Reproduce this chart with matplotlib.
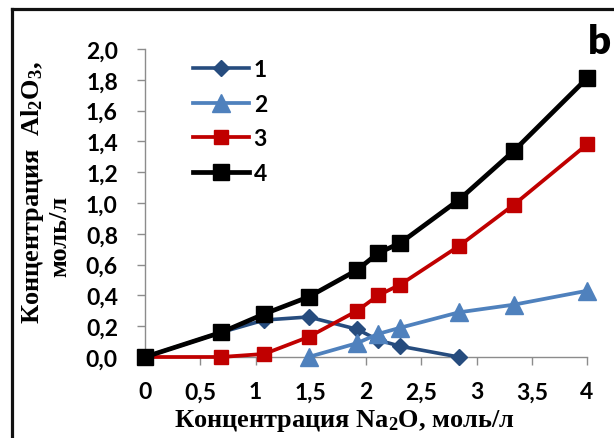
import matplotlib
matplotlib.use("Agg")
import matplotlib.pyplot as plt
from matplotlib.lines import Line2D

# ---- data ----
x_all = [0, 0.69, 1.08, 1.48, 1.92, 2.11, 2.31, 2.84, 3.34, 4.0]
s1_x = [0, 0.69, 1.08, 1.48, 1.92, 2.11, 2.31, 2.84]
s1_y = [0, 0.16, 0.24, 0.26, 0.18, 0.11, 0.07, 0.0]
s2_x = [1.48, 1.92, 2.11, 2.31, 2.84, 3.34, 4.0]
s2_y = [0.0, 0.09, 0.15, 0.19, 0.29, 0.34, 0.43]
s3_y = [0, 0.0, 0.02, 0.13, 0.30, 0.40, 0.47, 0.72, 0.99, 1.38]
s4_y = [0, 0.16, 0.28, 0.39, 0.565, 0.675, 0.74, 1.02, 1.34, 1.81]
labels = ["1", "2", "3", "4"]
xticks = [0, 0.5, 1, 1.5, 2, 2.5, 3, 3.5, 4]
xticklabels = ["0", "0,5", "1", "1,5", "2", "2,5", "3", "3,5", "4"]
yticks = [0, 0.2, 0.4, 0.6, 0.8, 1.0, 1.2, 1.4, 1.6, 1.8, 2.0]
yticklabels = ["0,0", "0,2", "0,4", "0,6", "0,8", "1,0", "1,2", "1,4", "1,6", "1,8", "2,0"]

plt.rcParams["mathtext.default"] = "regular"

W, H = 614, 439
fig = plt.figure(figsize=(W / 100, H / 100), dpi=100)
fig.patch.set_facecolor("white")

x0, x1 = 145, 587
y0, y1 = 358, 50
ax = fig.add_axes([x0 / W, 1 - y0 / H, (x1 - x0) / W, (y0 - y1) / H])
ax.set_xlim(0, 4)
ax.set_ylim(0, 2.0)

c1 = "#264C7E"
c2 = "#4F81BD"
c3 = "#C00000"
c4 = "#000000"

ax.plot(s1_x, s1_y, color=c1, lw=2.6, marker="D", ms=8.5, label=labels[0], clip_on=False, zorder=3)
ax.plot(s2_x, s2_y, color=c2, lw=2.7, marker="^", ms=12.5, label=labels[1], clip_on=False, zorder=4)
ax.plot(x_all, s3_y, color=c3, lw=2.7, marker="s", ms=9.5, label=labels[2], clip_on=False, zorder=5)
ax.plot(x_all, s4_y, color=c4, lw=3.4, marker="s", ms=12, label=labels[3], clip_on=False, zorder=6)

tickfont = {"family": "Lato", "weight": "bold", "size": 16.5}
ax.set_xticks(xticks)
ax.set_xticklabels(xticklabels, fontdict=tickfont)
ax.set_yticks(yticks)
ax.set_yticklabels(yticklabels, fontdict=tickfont)

for s in ["top", "right"]:
    ax.spines[s].set_visible(False)
for s in ["left", "bottom"]:
    ax.spines[s].set_color("#8c8c8c")
    ax.spines[s].set_linewidth(1.0)
ax.tick_params(axis="both", direction="out", length=5.5, width=1.0, color="#8c8c8c")
ax.tick_params(axis="y", pad=14)
ax.tick_params(axis="x", pad=12)

labfont = {"family": "Liberation Serif", "weight": "bold", "size": 19}
ax.set_xlabel("Концентрация Na$_2$O, моль/л", fontdict=labfont)
ax.xaxis.set_label_coords((345 - x0) / (x1 - x0), (y0 - 421) / (y0 - y1))
ax.xaxis.label.set_va("center")

ax.set_ylabel("Концентрация  Al$_2$O$_3$,", fontdict=labfont)
ax.yaxis.set_label_coords((33 - x0) / (x1 - x0), (y0 - 193) / (y0 - y1))
ax.yaxis.label.set_va("center")
ax.text((60 - x0) / (x1 - x0), (y0 - 236) / (y0 - y1), "моль/л", transform=ax.transAxes,
        rotation=90, ha="center", va="center", **labfont)

leg = ax.legend(loc="upper left", bbox_to_anchor=(193 / W, 1 - 60 / H), bbox_transform=fig.transFigure,
                frameon=False, prop={"family": "Lato", "weight": "bold", "size": 16.5},
                handlelength=2.45, handletextpad=0.2, labelspacing=0.6, borderpad=0, borderaxespad=0,
                numpoints=1)

fig.text(599 / W, 1 - 42 / H, "b", family="Lato", weight="heavy", size=29, ha="center", va="center")

# partial frame (left and top border)
fig.add_artist(Line2D([11.5 / W, 11.5 / W], [0, 1 - 10 / H], transform=fig.transFigure, color="#111111", lw=2.3,
                      solid_capstyle="projecting"))
fig.add_artist(Line2D([11.5 / W, 1], [1 - 10 / H, 1 - 10 / H], transform=fig.transFigure, color="#111111", lw=2.3,
                      solid_capstyle="projecting"))

fig.savefig("out.png", dpi=100)
